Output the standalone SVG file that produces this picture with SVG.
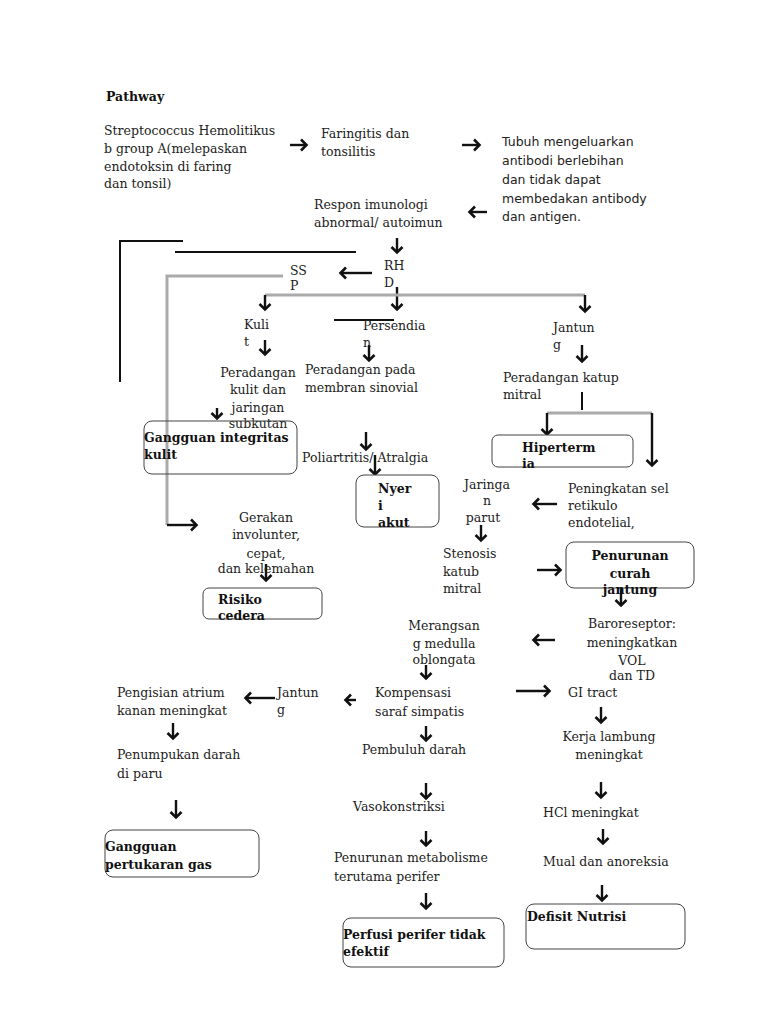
<svg xmlns="http://www.w3.org/2000/svg" width="768" height="1024" viewBox="0 0 768 1024">
<style>
text{font-family:"DejaVu Serif","Liberation Serif",serif;font-size:12.5px;fill:#222}
.b{font-weight:bold;fill:#111}
.s{font-family:"DejaVu Sans","Liberation Sans",sans-serif;font-size:12.5px}
.m{text-anchor:middle}
.box{fill:#fff;stroke:#444;stroke-width:1}
.a{stroke:#111;stroke-width:2.4;fill:none;marker-end:url(#h)}
.k{stroke:#111;stroke-width:2;fill:none}
.g{stroke:#aaa;stroke-width:3;fill:none}
</style>
<defs>
<marker id="h" markerUnits="userSpaceOnUse" markerWidth="14" markerHeight="14" refX="7" refY="7" orient="auto">
<path d="M2,1.5 L7.5,7 L2,12.5" fill="none" stroke="#111" stroke-width="2.6"/>
</marker>
</defs>
<rect width="768" height="1024" fill="#fff"/>

<g id="connectors">
<path class="a" d="M290,145 H306"/>
<path class="a" d="M462,145 H479"/>
<path class="a" d="M487,212 H470"/>
<path class="a" d="M397,238 V252"/>
<path class="k" d="M120,382 V241 H183"/>
<path class="k" d="M175,252 H356" stroke-width="3"/>
<path class="a" d="M372,273 H341"/>
<path class="g" d="M283,276 H167 V525"/>
<path class="a" d="M167,525 H196"/>
<path class="a" d="M397,287 V309"/>
<path class="g" d="M265,295 H585"/>
<path class="a" d="M265,295 V309"/>
<path class="a" d="M585,295 V311"/>
<path class="k" d="M334,320 H394"/>
<path class="a" d="M265,340 V354"/>
<path class="a" d="M369,345 V360"/>
<path class="a" d="M582,345 V361"/>
<path class="a" d="M217,408 V418"/>
<path class="k" d="M582,392 V410"/>
<path class="g" d="M547,413 H652"/>
<path class="a" d="M547,413 V434"/>
<path class="a" d="M652,413 V465"/>
<path class="a" d="M366,432 V449"/>
<path class="a" d="M375,455 V474"/>
<path class="a" d="M557,504 H534"/>
<path class="a" d="M481,525 V540"/>
<path class="a" d="M537,570 H560"/>
<path class="a" d="M621,586 V605"/>
<path class="a" d="M266,564 V580"/>
<path class="a" d="M555,640 H534"/>
<path class="a" d="M426,665 V678"/>
<path class="a" d="M275,698 H246"/>
<path class="a" d="M356,700 H346"/>
<path class="a" d="M516,691 H549"/>
<path class="a" d="M173,723 V738"/>
<path class="a" d="M426,726 V740"/>
<path class="a" d="M601,707 V722"/>
<path class="a" d="M176,800 V817"/>
<path class="a" d="M426,783 V798"/>
<path class="a" d="M601,782 V797"/>
<path class="a" d="M426,831 V845"/>
<path class="a" d="M603,829 V843"/>
<path class="a" d="M426,893 V908"/>
<path class="a" d="M602,885 V900"/>
</g>

<text class="b" x="106" y="101">Pathway</text>

<g id="strep">
<text x="104" y="135">Streptococcus Hemolitikus</text>
<text x="104" y="153">b group A(melepaskan</text>
<text x="104" y="171">endotoksin di faring</text>
<text x="104" y="188">dan tonsil)</text>
</g>
<g id="faringitis">
<text x="321" y="138">Faringitis dan</text>
<text x="321" y="156">tonsilitis</text>
</g>
<g id="tubuh">
<text class="s" x="502" y="146">Tubuh mengeluarkan</text>
<text class="s" x="502" y="165">antibodi berlebihan</text>
<text class="s" x="502" y="184">dan tidak dapat</text>
<text class="s" x="502" y="203">membedakan antibody</text>
<text class="s" x="502" y="221">dan antigen.</text>
</g>
<g id="respon">
<text x="314" y="209">Respon imunologi</text>
<text x="314" y="227">abnormal/ autoimun</text>
</g>
<g id="rhd">
<text x="384" y="270">RH</text>
<text x="384" y="287">D</text>
</g>
<g id="ssp">
<text x="290" y="275">SS</text>
<text x="290" y="290">P</text>
</g>
<g id="kulit">
<text x="244" y="329">Kuli</text>
<text x="244" y="346">t</text>
</g>
<g id="persendian">
<text x="363" y="330">Persendia</text>
<text x="363" y="347">n</text>
</g>
<g id="jantung1">
<text x="553" y="332">Jantun</text>
<text x="553" y="349">g</text>
</g>
<g id="peradangan-kulit">
<text class="m" x="258" y="377">Peradangan</text>
<text class="m" x="258" y="394">kulit dan</text>
<text class="m" x="258" y="412">jaringan</text>
<text class="m" x="258" y="428">subkutan</text>
</g>
<g id="peradangan-sinovial">
<text x="305" y="374">Peradangan pada</text>
<text x="305" y="392">membran sinovial</text>
</g>
<g id="peradangan-katup">
<text x="503" y="382">Peradangan katup</text>
<text x="503" y="399">mitral</text>
</g>
<g id="gangguan-integritas">
<rect class="box" x="144" y="421" width="153" height="53" rx="8" fill-opacity="0"/>
<text class="b" x="144" y="442">Gangguan integritas</text>
<text class="b" x="144" y="459">kulit</text>
</g>
<g id="hipertermia">
<rect class="box" x="492" y="435" width="141" height="32" rx="6"/>
<text class="b" x="522" y="452">Hiperterm</text>
<text class="b" x="522" y="468">ia</text>
</g>
<g id="poliartritis">
<text x="302" y="462">Poliartritis/ Atralgia</text>
</g>
<g id="nyeri">
<rect class="box" x="356" y="475" width="83" height="52" rx="8"/>
<text class="b" x="378" y="493">Nyer</text>
<text class="b" x="378" y="510">i</text>
<text class="b" x="378" y="527">akut</text>
</g>
<g id="jaringan-parut">
<text class="m" x="487" y="489">Jaringa</text>
<text class="m" x="487" y="505">n</text>
<text class="m" x="483" y="522">parut</text>
</g>
<g id="peningkatan">
<text x="568" y="493">Peningkatan sel</text>
<text x="568" y="510">retikulo</text>
<text x="568" y="527">endotelial,</text>
</g>
<g id="gerakan">
<text class="m" x="266" y="522">Gerakan</text>
<text class="m" x="266" y="539">involunter,</text>
<text class="m" x="266" y="558">cepat,</text>
<text class="m" x="266" y="573">dan kelemahan</text>
</g>
<g id="stenosis">
<text x="443" y="558">Stenosis</text>
<text x="443" y="576">katub</text>
<text x="443" y="593">mitral</text>
</g>
<g id="penurunan-curah">
<rect class="box" x="566" y="542" width="128" height="46" rx="8"/>
<text class="b m" x="630" y="560">Penurunan</text>
<text class="b m" x="630" y="578">curah</text>
<text class="b m" x="630" y="594">jantung</text>
</g>
<g id="risiko">
<rect class="box" x="203" y="588" width="119" height="31" rx="6"/>
<text class="b" x="218" y="604">Risiko</text>
<text class="b" x="218" y="620">cedera</text>
</g>
<g id="merangsang">
<text class="m" x="444" y="630">Merangsan</text>
<text class="m" x="444" y="648">g medulla</text>
<text class="m" x="444" y="664">oblongata</text>
</g>
<g id="baroreseptor">
<text class="m" x="632" y="628">Baroreseptor:</text>
<text class="m" x="632" y="647">meningkatkan</text>
<text class="m" x="632" y="665">VOL</text>
<text class="m" x="632" y="680">dan TD</text>
</g>
<g id="pengisian">
<text x="117" y="697">Pengisian atrium</text>
<text x="117" y="715">kanan meningkat</text>
</g>
<g id="jantung2">
<text x="277" y="697">Jantun</text>
<text x="277" y="714">g</text>
</g>
<g id="kompensasi">
<text x="375" y="697">Kompensasi</text>
<text x="375" y="716">saraf simpatis</text>
</g>
<g id="gi">
<text x="568" y="697">GI tract</text>
</g>
<g id="penumpukan">
<text x="117" y="759">Penumpukan darah</text>
<text x="117" y="778">di paru</text>
</g>
<g id="pembuluh">
<text x="362" y="754">Pembuluh darah</text>
</g>
<g id="kerja">
<text class="m" x="609" y="741">Kerja lambung</text>
<text class="m" x="609" y="759">meningkat</text>
</g>
<g id="gangguan-gas">
<rect class="box" x="105" y="830" width="154" height="47" rx="8"/>
<text class="b" x="105" y="851">Gangguan</text>
<text class="b" x="105" y="869">pertukaran gas</text>
</g>
<g id="vasokonstriksi">
<text x="353" y="811">Vasokonstriksi</text>
</g>
<g id="hcl">
<text x="543" y="817">HCl meningkat</text>
</g>
<g id="penurunan-metabolisme">
<text x="334" y="862">Penurunan metabolisme</text>
<text x="334" y="881">terutama perifer</text>
</g>
<g id="mual">
<text x="543" y="866">Mual dan anoreksia</text>
</g>
<g id="perfusi">
<rect class="box" x="343" y="918" width="161" height="49" rx="8"/>
<text class="b" x="343" y="939">Perfusi perifer tidak</text>
<text class="b" x="343" y="956">efektif</text>
</g>
<g id="defisit">
<rect class="box" x="526" y="904" width="159" height="45" rx="8"/>
<text class="b" x="527" y="921">Defisit Nutrisi</text>
</g>
</svg>
